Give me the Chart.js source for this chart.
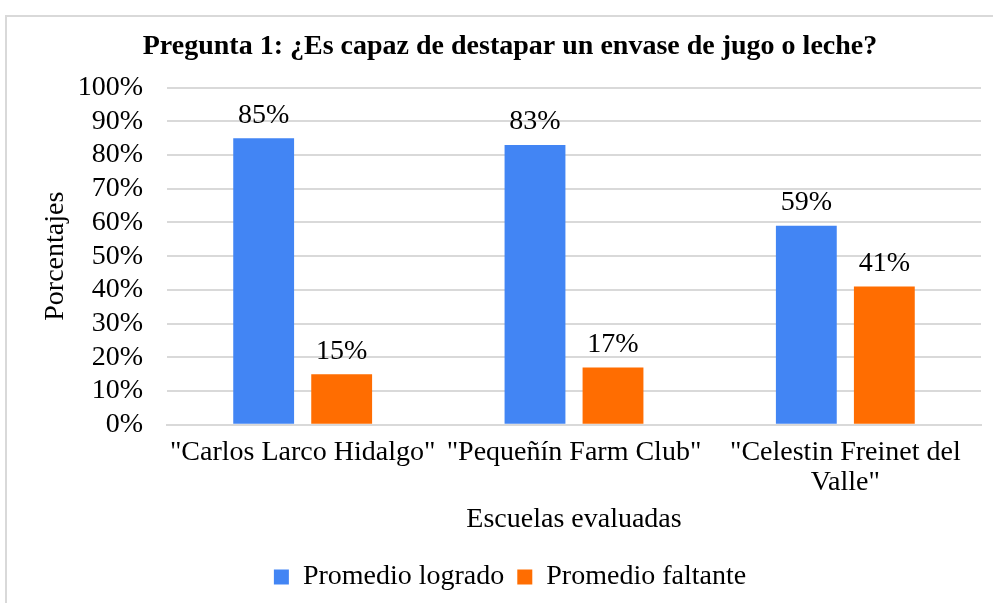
<!DOCTYPE html>
<html>
<head>
<meta charset="utf-8">
<script src="https://cdn.jsdelivr.net/npm/chart.js@4"></script>
<style>
  html, body { margin: 0; padding: 0; background: #fff; width: 993px; height: 603px; overflow: hidden; }
  #frame { position: absolute; left: 5px; top: 15px; width: 1015px; height: 600px; border: 2px solid #d9d9d9; box-sizing: border-box; background: #fff; }
  #wrap { position: absolute; left: 0; top: 0; width: 1011px; height: 596px; }
</style>
</head>
<body>
<div id="frame"><div id="wrap"><canvas id="c"></canvas></div></div>
<script>
const categories = ['"Carlos Larco Hidalgo"', '"Pequeñín Farm Club"', ['"Celestin Freinet del', 'Valle"']];
const seriesNames = ['Promedio logrado', 'Promedio faltante'];
const logrado = [85, 83, 59];
const faltante = [15, 17, 41];
const yTicks = [0, 10, 20, 30, 40, 50, 60, 70, 80, 90, 100];

const FONT = "'Liberation Serif', 'Times New Roman', serif";
const FS = 28;

const valueLabels = {
  id: 'valueLabels',
  afterDatasetsDraw(chart) {
    const ctx = chart.ctx;
    ctx.save();
    ctx.font = FS + 'px ' + FONT;
    ctx.fillStyle = '#000';
    ctx.textAlign = 'center';
    ctx.textBaseline = 'bottom';
    chart.data.datasets.forEach((ds, i) => {
      chart.getDatasetMeta(i).data.forEach((bar, j) => {
        ctx.fillText(ds.data[j] + '%', bar.x, bar.y - 9);
      });
    });
    ctx.restore();
  }
};

new Chart(document.getElementById('c'), {
  type: 'bar',
  data: {
    labels: categories,
    datasets: [
      { label: seriesNames[0], data: logrado, backgroundColor: '#4285F4', categoryPercentage: 0.575, barPercentage: 0.78 },
      { label: seriesNames[1], data: faltante, backgroundColor: '#FF6D01', categoryPercentage: 0.575, barPercentage: 0.78 }
    ]
  },
  options: {
    responsive: true,
    maintainAspectRatio: false,
    animation: false,
    layout: { padding: { left: 32, right: 37, top: 0, bottom: 12 } },
    plugins: {
      title: {
        display: true,
        text: 'Pregunta 1: ¿Es capaz de destapar un envase de jugo o leche?',
        color: '#000',
        font: { family: FONT, size: FS, weight: 'bold' },
        padding: { top: 13, bottom: 24 }
      },
      legend: {
        position: 'bottom',
        labels: {
          color: '#000',
          font: { family: FONT, size: FS },
          boxWidth: 15, boxHeight: 15,
          padding: 13
        }
      },
      tooltip: { enabled: false }
    },
    scales: {
      x: {
        afterFit(scale) { scale.paddingLeft = 0; scale.paddingRight = 0; },
        grid: { display: false },
        border: { display: true, color: '#d9d9d9', width: 2 },
        ticks: { color: '#000', font: { family: FONT, size: FS, lineHeight: 1.1 }, maxRotation: 0, autoSkip: false, padding: 4 },
        title: { display: true, text: 'Escuelas evaluadas', color: '#000', font: { family: FONT, size: FS }, padding: { top: 0, bottom: 14 } }
      },
      y: {
        min: 0, max: 100,
        afterBuildTicks(axis) { axis.ticks = yTicks.map(v => ({ value: v })); },
        afterFit(axis) { axis.width = 128; },
        grid: { color: '#d9d9d9', lineWidth: 2, drawTicks: false },
        border: { display: false },
        ticks: { color: '#000', font: { family: FONT, size: FS }, padding: 24, autoSkip: false, callback: v => v + '%' },
        title: { display: true, text: 'Porcentajes', color: '#000', font: { family: FONT, size: FS }, padding: { top: 0, bottom: 4 } }
      }
    }
  },
  plugins: [valueLabels]
});
</script>
</body>
</html>
